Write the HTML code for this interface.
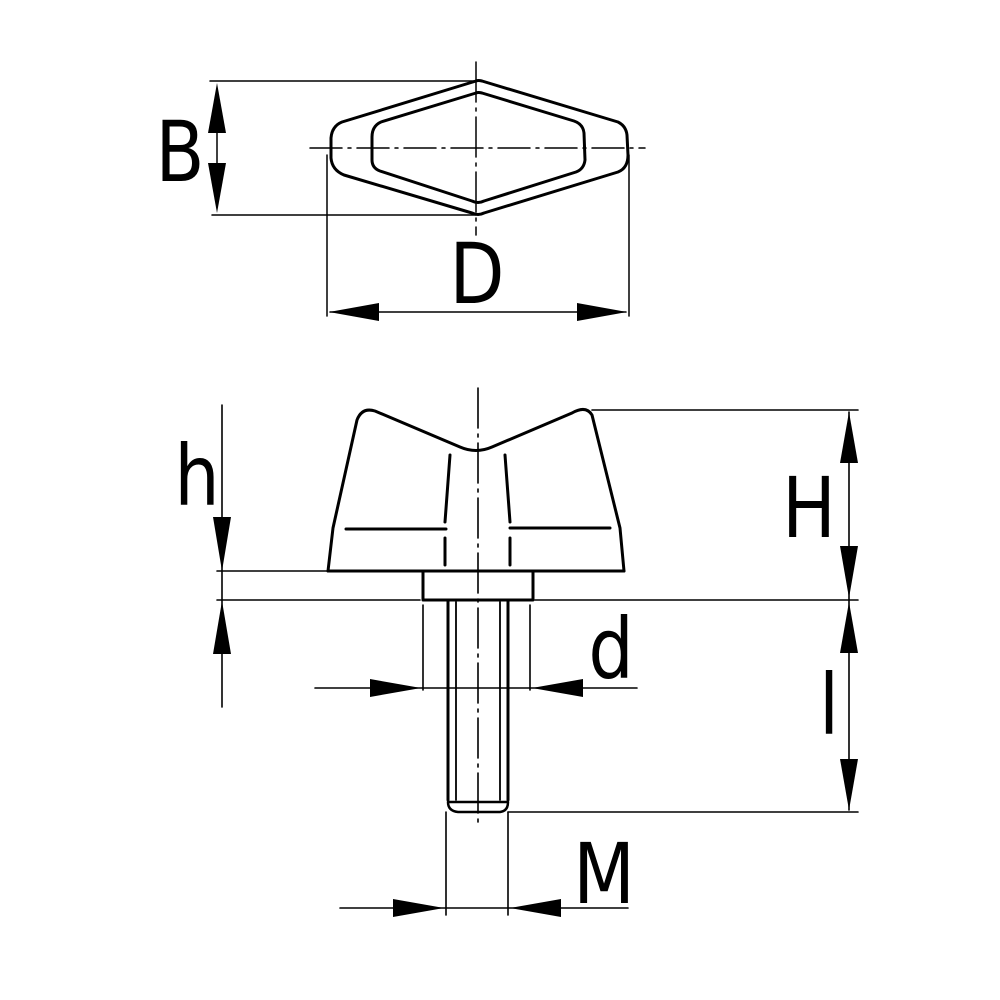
<!DOCTYPE html>
<html><head><meta charset="utf-8"><style>
html,body{margin:0;padding:0;background:#fff}
svg{display:block}
text{font-family:"DejaVu Sans","Liberation Sans",sans-serif;fill:#000}
</style></head><body>
<svg width="1000" height="1000" viewBox="0 0 1000 1000" xmlns="http://www.w3.org/2000/svg">
<g fill="none" stroke="#000" stroke-linecap="round" stroke-linejoin="round">
<!-- TOP VIEW -->
<path d="M476,81 Q478,80 482,81 L618,122 Q626,126 627,135 L628,155 Q628,168 618,172 L484,213 Q478,216 472,213 L344,175 Q332,170 331,158 L331,138 Q332,126 342,122 Z" stroke-width="3"/>
<path d="M476,93 Q478,92 482,93 L574,121 Q583,124 584,133 L585,160 Q584,169 576,172 L484,201 Q478,204 472,201 L380,171 Q372,168 372,160 L372,137 Q372,126 381,122 Z" stroke-width="3"/>
<g stroke-width="1.5">
<path d="M310,148 H645" stroke-dasharray="32,6,3,6"/>
<path d="M476,62 V235" stroke-dasharray="40,6,3,6"/>
<path d="M210,81 H476 M212,215 H476"/>
<path d="M217,95 V200"/>
<path d="M327,155 V316 M629,155 V316"/>
<path d="M330,312 H626"/>
</g>
<!-- SIDE VIEW -->
<path d="M328,571 L333,528 L357,420 Q362,407 375,411 L460,447 Q476,454 492,447 L572,413 Q586,405 592,415 L620,528 L624,571" stroke-width="3"/>
<path d="M328,571 H624" stroke-width="3"/>
<path d="M450,455 L445,522 M445,538 L445,565 M505,455 L510,522 M510,538 L510,565" stroke-width="3"/>
<path d="M346,529 H446 M510,528 H610" stroke-width="3"/>
<rect x="423" y="571" width="110" height="29" stroke-width="3"/>
<path d="M448,600 V800 M508,600 V800" stroke-width="3"/>
<path d="M456,602 V800 M500,602 V800" stroke-width="1.8"/>
<path d="M448,802 Q448,811 458,812 H500 Q508,811 508,802 Z" stroke-width="2.5"/>
<g stroke-width="1.6">
<path d="M478,388 V828" stroke-dasharray="40,6,3,6"/>
<path d="M217,571 H328 M217,600 H420 M535,600 H858"/>
<path d="M592,410 H858"/>
<path d="M508,812 H858"/>
<path d="M222,405 V707"/>
<path d="M849,412 V810"/>
<path d="M423,605 V690 M530,605 V690"/>
<path d="M315,688 H637"/>
<path d="M446,812 V915 M508,812 V915"/>
<path d="M340,908 H628"/>
</g>
</g>
<g fill="#000">
<polygon points="217,83 208,133 226,133"/>
<polygon points="217,213 208,163 226,163"/>
<polygon points="329,312 379,303 379,321"/>
<polygon points="627,312 577,303 577,321"/>
<polygon points="222,571 213,517 231,517"/>
<polygon points="222,601 213,654 231,654"/>
<polygon points="849,412 840,463 858,463"/>
<polygon points="849,598 840,546 858,546"/>
<polygon points="849,602 840,653 858,653"/>
<polygon points="849,810 840,759 858,759"/>
<polygon points="421,688 370,679 370,697"/>
<polygon points="532,688 583,679 583,697"/>
<polygon points="444,908 393,899 393,917"/>
<polygon points="510,908 561,899 561,917"/>
</g>
<g font-size="84">
<text x="180" y="181" text-anchor="middle" transform="translate(180,0) scale(0.85,1) translate(-180,0)">B</text>
<text x="477" y="303" text-anchor="middle" transform="translate(477,0) scale(0.85,1) translate(-477,0)">D</text>
<text x="197" y="505" text-anchor="middle" transform="translate(197,0) scale(0.85,1) translate(-197,0)">h</text>
<text x="809" y="537" text-anchor="middle" transform="translate(809,0) scale(0.85,1) translate(-809,0)">H</text>
<text x="611" y="678" text-anchor="middle" transform="translate(611,0) scale(0.85,1) translate(-611,0)">d</text>
<text x="829" y="734" text-anchor="middle" transform="translate(829,0) scale(0.85,1) translate(-829,0)">l</text>
<text x="604" y="903" text-anchor="middle" transform="translate(604,0) scale(0.85,1) translate(-604,0)">M</text>
</g>
</svg>
</body></html>
